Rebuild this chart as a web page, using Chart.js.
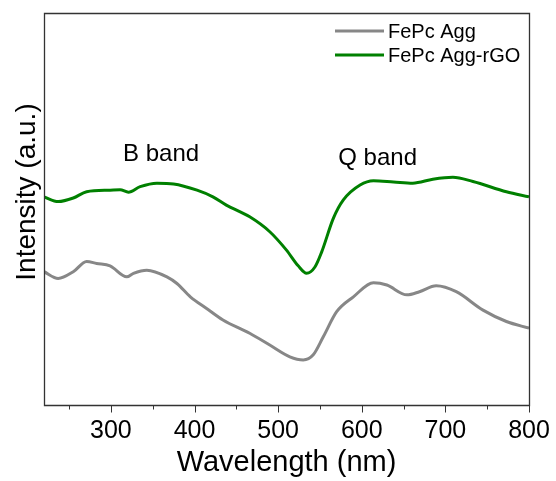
<!DOCTYPE html>
<html>
<head>
<meta charset="utf-8">
<script src="https://cdn.jsdelivr.net/npm/chart.js@4"></script>
<style>
  body { margin: 0; background: #fff; }
</style>
</head>
<body>
<canvas id="uvChart" width="556" height="481"></canvas>
<script>
// wavelength (nm) and intensity (a.u.)
var aggWavelength = [220, 237, 255, 271, 283, 299, 319, 327, 343, 367, 379, 395, 414, 434, 466, 490, 514, 530, 542, 554, 570, 590, 614, 630, 654, 669, 689, 713, 745, 773, 800];
var aggIntensity  = [0.340, 0.323, 0.340, 0.366, 0.361, 0.355, 0.327, 0.336, 0.344, 0.327, 0.310, 0.276, 0.247, 0.217, 0.183, 0.153, 0.123, 0.115, 0.128, 0.174, 0.238, 0.276, 0.312, 0.306, 0.281, 0.289, 0.304, 0.289, 0.242, 0.213, 0.196];

var rgoWavelength = [220, 237, 255, 271, 299, 311, 321, 335, 355, 375, 403, 422, 438, 466, 490, 510, 524, 534, 544, 552, 566, 578, 598, 614, 638, 661, 685, 709, 733, 773, 800];
var rgoIntensity  = [0.531, 0.519, 0.528, 0.544, 0.548, 0.549, 0.543, 0.557, 0.566, 0.564, 0.548, 0.531, 0.510, 0.480, 0.442, 0.395, 0.355, 0.336, 0.352, 0.390, 0.476, 0.523, 0.561, 0.572, 0.569, 0.566, 0.576, 0.581, 0.570, 0.544, 0.531];

var seriesNames = ['FePc Agg', 'FePc Agg-rGO'];
var seriesColors = ['#878787', '#008000'];
var bandLabels = [
    { text: 'B band', x: 360, y: 0.640 },
    { text: 'Q band', x: 619, y: 0.629 }
];

function toPoints(xs, ys) {
    return xs.map(function (x, i) { return { x: x, y: ys[i] }; });
}

var font = 'Arial, "Liberation Sans", sans-serif';

var decorPlugin = {
    id: 'decor',
    afterDraw: function (chart) {
        var ctx = chart.ctx;
        var area = chart.chartArea;
        var xs = chart.scales.x;
        var ys = chart.scales.y;
        var l = Math.round(area.left) + 0.5, r = Math.round(area.right) + 0.5;
        var t = Math.round(area.top) + 0.5, b = Math.round(area.bottom) + 0.5;
        ctx.save();

        // frame
        ctx.strokeStyle = '#333';
        ctx.lineWidth = 1.3;
        ctx.beginPath();
        ctx.moveTo(l, t);
        ctx.lineTo(r, t);
        ctx.lineTo(r, b);
        ctx.lineTo(l, b);
        ctx.closePath();
        ctx.stroke();

        // outward ticks on x axis
        ctx.lineWidth = 1;
        xs.ticks.forEach(function (tk) {
            var px = Math.round(xs.getPixelForValue(tk.value)) + 0.5;
            var len = (tk.value % 100 === 0) ? 7 : 4;
            ctx.beginPath();
            ctx.moveTo(px, b);
            ctx.lineTo(px, b + len);
            ctx.stroke();
        });

        // axis titles
        ctx.fillStyle = '#000';
        ctx.font = '29px ' + font;
        ctx.textAlign = 'center';
        ctx.textBaseline = 'middle';
        ctx.fillText('Wavelength (nm)', (area.left + area.right) / 2, 463);

        ctx.save();
        ctx.translate(27, 192);
        ctx.rotate(-Math.PI / 2);
        ctx.font = '28px ' + font;
        ctx.fillText('Intensity (a.u.)', 0, 0);
        ctx.restore();

        // band annotations
        ctx.font = '24px ' + font;
        bandLabels.forEach(function (bl) {
            ctx.fillText(bl.text, xs.getPixelForValue(bl.x), ys.getPixelForValue(bl.y));
        });

        // legend
        ctx.font = '20px ' + font;
        ctx.textAlign = 'left';
        ctx.lineWidth = 3;
        seriesNames.forEach(function (name, i) {
            var y = 31 + i * 24;
            ctx.strokeStyle = seriesColors[i];
            ctx.beginPath();
            ctx.moveTo(335, y);
            ctx.lineTo(384, y);
            ctx.stroke();
            ctx.fillText(name, 388, y + 1);
        });

        ctx.restore();
    }
};

var ctx = document.getElementById('uvChart').getContext('2d');
var uvChart = new Chart(ctx, {
    type: 'line',
    data: {
        datasets: [{
            label: seriesNames[0],
            data: toPoints(aggWavelength, aggIntensity),
            borderColor: seriesColors[0],
            borderWidth: 3,
            pointRadius: 0,
            cubicInterpolationMode: 'monotone',
            fill: false
        }, {
            label: seriesNames[1],
            data: toPoints(rgoWavelength, rgoIntensity),
            borderColor: seriesColors[1],
            borderWidth: 3,
            pointRadius: 0,
            cubicInterpolationMode: 'monotone',
            fill: false
        }]
    },
    options: {
        responsive: false,
        animation: false,
        layout: {
            padding: { top: 13, right: 27, left: 0, bottom: 0 }
        },
        plugins: {
            legend: { display: false },
            tooltip: { enabled: false }
        },
        scales: {
            x: {
                type: 'linear',
                min: 220,
                max: 800,
                grid: { display: false, drawTicks: false },
                border: { display: false },
                ticks: {
                    stepSize: 50,
                    includeBounds: false,
                    autoSkip: false,
                    maxRotation: 0,
                    padding: 11,
                    color: '#000',
                    font: { family: font, size: 25 },
                    callback: function (v) { return v % 100 === 0 ? v : ''; }
                },
                afterFit: function (scale) {
                    scale.height = 76;
                    scale.paddingRight = 0;
                }
            },
            y: {
                min: 0,
                max: 1,
                grid: { display: false, drawTicks: false },
                border: { display: false },
                ticks: { display: false },
                afterFit: function (scale) { scale.width = 44; }
            }
        }
    },
    plugins: [decorPlugin]
});
</script>
</body>
</html>
